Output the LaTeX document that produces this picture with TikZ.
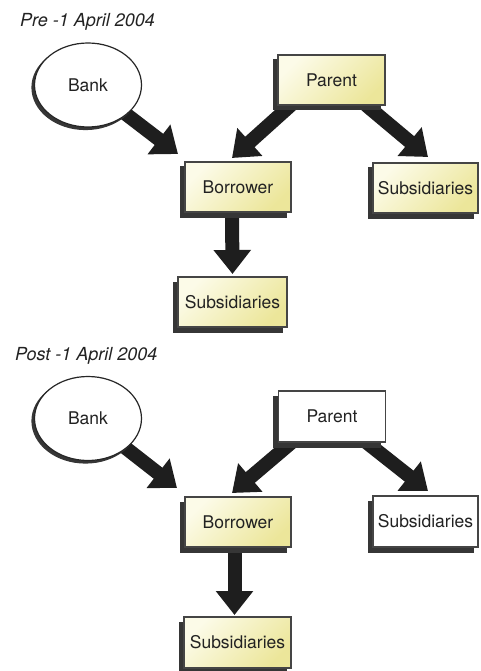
\documentclass[tikz,border=0pt]{standalone}
\usepackage{fontspec}
\setmainfont{TeX Gyre Heros}
\usetikzlibrary{arrows.meta,shadows,calc,shapes.geometric}
\definecolor{ylight}{HTML}{FCFBE8}
\definecolor{ydark}{HTML}{ECE69A}
\definecolor{shadowgray}{HTML}{363636}
\definecolor{edgegray}{HTML}{454545}
\definecolor{arrowc}{HTML}{1E1E1E}
\definecolor{txt}{HTML}{222222}
\pgfdeclarelayer{bg}
\pgfsetlayers{bg,main}
\begin{document}
\begin{tikzpicture}[x=1pt,y=-1pt,
  box/.style={rectangle, draw=edgegray, line width=1.4pt, inner sep=0pt, outer sep=0pt,
    text=txt, font=\fontsize{17.5}{20}\selectfont,
    general shadow={fill=shadowgray, draw=shadowgray, line width=1pt, shadow xshift=-5pt, shadow yshift=-5pt}},
  ybox/.style={box, top color=ylight, bottom color=ydark, shading angle=45},
  wbox/.style={box, fill=white},
  bankst/.style={ellipse, draw=black!85, line width=1.2pt, fill=white, minimum width=107pt,
    minimum height=84pt, inner sep=0pt, outer sep=0pt, text=txt, font=\fontsize{17.5}{20}\selectfont,
    general shadow={fill=shadowgray, draw=shadowgray, shadow xshift=-2.5pt, shadow yshift=-2.5pt}},
  bigarrow/.style={draw=arrowc, line width=14pt, -{Triangle[length=24pt,width=36pt]}},
  title/.style={anchor=base west, inner sep=0pt, text=txt, font=\fontsize{18}{21}\selectfont\itshape}]
\useasboundingbox (0,0) rectangle (480,671);

% ---------- Pre ----------
\node[title] (pre) at (20,27) {Pre -1 April 2004};
\node[bankst] (bank) at (88,85) {Bank};
\node[ybox, minimum width=107pt, minimum height=50pt] (parent) at (331.5,80) {Parent};
\node[ybox, minimum width=106pt, minimum height=50pt] (borrower) at (238,187) {Borrower};
\node[ybox, minimum width=105pt, minimum height=50pt] (subr) at (425.5,188) {Subsidiaries};
\node[ybox, minimum width=109pt, minimum height=50pt] (subb) at (232.5,302) {Subsidiaries};

\coordinate (t1) at ($(borrower.north west)+(-7,-8)$);
\coordinate (s2) at ($(parent.south)+(-40.5,0)$);
\coordinate (t2) at ($(borrower.north)+(-6,-4)$);
\coordinate (s3) at ($(parent.south)+(34.5,0)$);
\coordinate (t3) at ($(subr.north)+(2.5,-6)$);
\coordinate (s4) at ($(borrower.south)+(-6,0)$);
\coordinate (t4) at ($(subb.north)+(0,-3)$);

% ---------- Post ----------
\node[title] (post) at (15,360) {Post -1 April 2004};
\node[bankst] (bank2) at (88,418.5) {Bank};
\node[wbox, minimum width=107pt, minimum height=51pt] (parent2) at (332,416.5) {Parent};
\node[ybox, minimum width=106pt, minimum height=50pt] (borrower2) at (238,522) {Borrower};
\node[wbox, minimum width=105pt, minimum height=51pt] (subr2) at (425.5,521.5) {Subsidiaries};
\node[ybox, minimum width=107pt, minimum height=51pt] (subb2) at (237.5,642.5) {Subsidiaries};

\coordinate (u1) at ($(borrower2.north west)+(-8,-9)$);
\coordinate (r2) at ($(parent2.south)+(-40,0)$);
\coordinate (u2) at ($(borrower2.north)+(-6,-4)$);
\coordinate (r3) at ($(parent2.south)+(34,0)$);
\coordinate (u3) at ($(subr2.north)+(2.5,-5)$);
\coordinate (r4) at ($(borrower2.south)+(-3.5,0)$);
\coordinate (u4) at ($(subb2.north)+(-3,-2)$);

\begin{pgfonlayer}{bg}
\draw[bigarrow] (bank.center) -- (t1);
\draw[bigarrow] (s2) -- (t2);
\draw[bigarrow] (s3) -- (t3);
\draw[bigarrow] (s4) -- (t4);
\draw[bigarrow] (bank2.center) -- (u1);
\draw[bigarrow] (r2) -- (u2);
\draw[bigarrow] (r3) -- (u3);
\draw[bigarrow] (r4) -- (u4);
\end{pgfonlayer}
\end{tikzpicture}
\end{document}
